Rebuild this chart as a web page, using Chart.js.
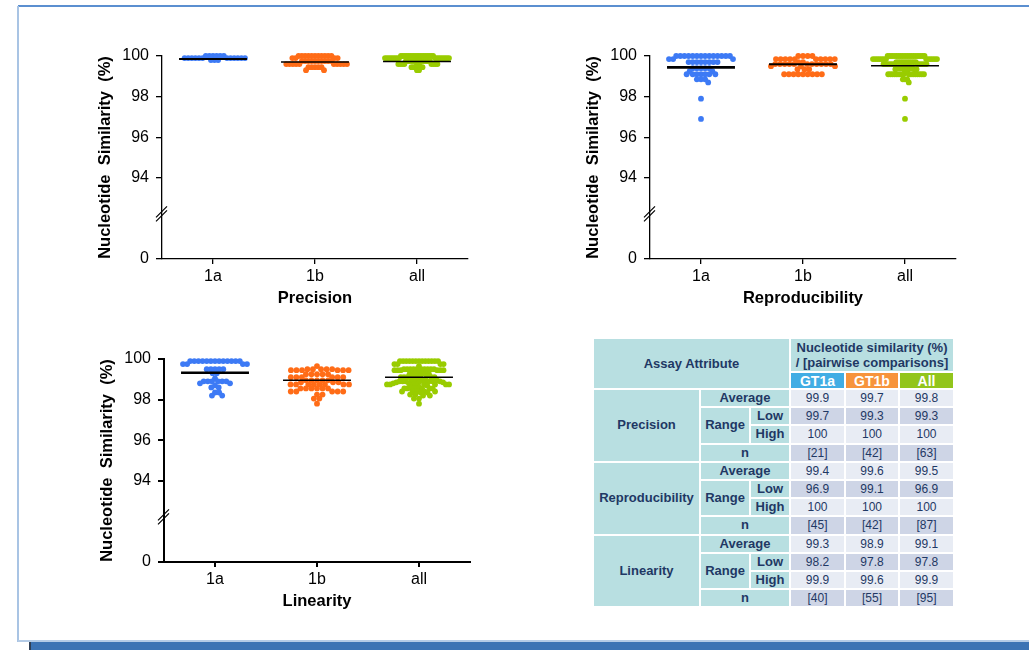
<!DOCTYPE html>
<html>
<head>
<meta charset="utf-8">
<script src="https://cdn.jsdelivr.net/npm/chart.js@4.4.1/dist/chart.umd.min.js"></script>
<style>
  html, body { margin:0; padding:0; background:#fff; }
  body { width:1029px; height:650px; position:relative; overflow:hidden; font-family:"Liberation Sans", Arial, sans-serif; }
  .frameTop { position:absolute; left:18px; top:5px; width:1011px; height:2px; background:#5b8fd0; }
  .frameLeft { position:absolute; left:17px; top:6px; width:2px; height:636px; background:#a9c4e4; }
  .frameBottom { position:absolute; left:18px; top:640px; width:1011px; height:2px; background:#b4cbe6; }
  .bar { position:absolute; left:29px; top:642px; width:1000px; height:8px; background:#3c73b4; }
  .barEdge { position:absolute; left:29px; top:642px; width:2px; height:8px; background:#2f3f55; }
  canvas { position:absolute; }
  #tbl { position:absolute; left:593px; top:338px; border-collapse:separate; border-spacing:0; table-layout:fixed; }
  #tbl td { border:1px solid #fff; padding:0; text-align:center; vertical-align:middle; color:#1f3864; font-size:12px; line-height:14px; overflow:hidden; white-space:nowrap; }
  #tbl td.lab { background:#b8dfe1; font-weight:bold; font-size:13px; }
  #tbl td.lt { background:#e8ecf4; }
  #tbl td.dk { background:#ced5e6; }
  #tbl td.g1 { background:#41ade4; color:#fff; font-weight:bold; font-size:14px; }
  #tbl td.g2 { background:#f7943c; color:#fff; font-weight:bold; font-size:14px; }
  #tbl td.g3 { background:#92c51c; color:#fff; font-weight:bold; font-size:14px; }
</style>
</head>
<body>
<div class="frameTop"></div>
<div class="frameLeft"></div>
<div class="frameBottom"></div>
<div class="bar"></div>
<div class="barEdge"></div>

<canvas id="c1" width="400" height="290" style="left:90px;top:30px;"></canvas>
<canvas id="c2" width="400" height="290" style="left:578px;top:30px;"></canvas>
<canvas id="c3" width="400" height="290" style="left:92px;top:333px;"></canvas>
<table id="tbl"></table>

<script>
// ---------------- DATA ----------------
const categories = ['1a', '1b', 'all'];
// Broken y axis: the value 90 on the scale is shown as "0"
const yTickValues = [90, 94, 96, 98, 100];
const yTickLabels = ['0', '94', '96', '98', '100'];
const axisBreakValue = 92.2;

const precision1a = [100,100,100,100,100,100, 99.9,99.9,99.9,99.9,99.9,99.9,99.9,99.9,99.9,99.9,99.9,99.9, 99.8,99.8,99.8];
const precision1b = [100,100,100,100,100,100,100,100,100,100,100, 99.9,99.9,99.9,99.9,
  99.75,99.75,99.75,99.75,99.75,99.75,99.75,99.75,99.75,99.75,
  99.6,99.6,99.6,99.6,99.6,99.6,99.6,99.6,99.6,99.6, 99.45,99.45,99.45,99.45,99.45, 99.3,99.3];
const precisionAll = precision1a.concat(precision1b);
const precisionMeans = [99.85, 99.71, 99.73];

const repro1a = [100,100,100,100,100,100,100,100,100,100,100,100,100,100, 99.85,99.85,99.85,
  99.7,99.7,99.7,99.7,99.7,99.7,99.7,99.7, 99.4,99.4,99.4,99.4,99.4, 99.25,99.25,
  99.1,99.1,99.1,99.1,99.1,99.1,99.1, 98.85,98.85,98.85, 98.7, 97.9, 96.9];
const repro1b = [100,100,100,100, 99.85,99.85,99.85,99.85,99.85,99.85,99.85,99.85,99.85,99.85, 99.7,99.7,
  99.6,99.6,99.6,99.6,99.6,99.6,99.6,99.6,99.6,99.6,99.6, 99.5,99.5,99.5, 99.35,99.35,99.35,
  99.1,99.1,99.1,99.1,99.1,99.1,99.1,99.1,99.1];
const reproAll = repro1a.concat(repro1b);
const reproMeans = [99.44, 99.59, 99.52];

const lin1a = [99.9,99.9,99.9,99.9,99.9,99.9,99.9,99.9,99.9,99.9,99.9,99.9,99.9, 99.75,99.75,99.75,99.75,
  99.5,99.5,99.5,99.5,99.5, 99.3,99.3, 99.05, 98.9,98.9,98.9,98.9,98.9,98.9, 98.8,98.8, 98.7,
  98.6,98.6, 98.35,98.35, 98.2,98.2];
const lin1b = [99.65, 99.5,99.5,99.5,99.5,99.5, 99.45,99.45,99.45,99.45,99.45,99.45, 99.25,99.25,99.25,99.25,99.25,
  99.1,99.1,99.1,99.1,99.1,99.1, 98.95,98.95,98.95,98.95,98.95, 98.85,98.85,98.85,
  98.75,98.75,98.75,98.75,98.75,98.75,98.75,98.75, 98.55,98.55,98.55,98.55,98.55,98.55,
  98.4,98.4,98.4,98.4,98.4, 98.25,98.25, 98.05,98.05, 97.8];
const linAll = lin1a.concat(lin1b);
const linMeans = [99.32, 98.95, 99.1];

// table
const tableGroups = ['GT1a', 'GT1b', 'All'];
const tableAttributes = ['Precision', 'Reproducibility', 'Linearity'];
const tableAverage = [['99.9','99.7','99.8'], ['99.4','99.6','99.5'], ['99.3','98.9','99.1']];
const tableLow     = [['99.7','99.3','99.3'], ['96.9','99.1','96.9'], ['98.2','97.8','97.8']];
const tableHigh    = [['100','100','100'],    ['100','100','100'],    ['99.9','99.6','99.9']];
const tableN       = [['[21]','[42]','[63]'], ['[45]','[42]','[87]'], ['[40]','[55]','[95]']];

// ---------------- STYLE ----------------
const FONT = '"Liberation Sans", Arial, sans-serif';
const pointColors = ['#3d7af5', '#ff6c17', '#99cc00'];

// beeswarm layout with elliptical collision, then squeezed to a maximum half-width
function swarm(values, center, xs, ys, sx, sy, maxHalf) {
  const pts = values.map(v => ({ v, py: ys.getPixelForValue(v) })).sort((a, b) => a.py - b.py);
  const placed = [];
  const free = (c, p) => placed.every(q => {
    const a = (c - q.dx) / sx, b = (p.py - q.py) / sy;
    return a * a + b * b >= 1 - 1e-9;
  });
  for (const p of pts) {
    const cands = [0];
    for (const q of placed) {
      const dy = p.py - q.py;
      if (Math.abs(dy) < sy) {
        const dx = sx * Math.sqrt(1 - (dy / sy) * (dy / sy));
        cands.push(q.dx + dx, q.dx - dx);
      }
    }
    cands.sort((a, b) => Math.abs(a) - Math.abs(b));
    let best = 0;
    for (const c of cands) { if (free(c, p)) { best = c; break; } }
    p.dx = best;
    placed.push(p);
  }
  const maxAbs = Math.max(...placed.map(p => Math.abs(p.dx)), 0.001);
  const k = maxAbs > maxHalf ? maxHalf / maxAbs : 1;
  const cpx = xs.getPixelForValue(center);
  return placed.map(p => ({ x: xs.getValueForPixel(cpx + p.dx * k), y: p.v }));
}

const breakPlugin = {
  id: 'axisBreak',
  afterDraw(chart) {
    const ctx = chart.ctx, y = chart.scales.y, x0 = chart.chartArea.left;
    const yb = y.getPixelForValue(axisBreakValue);
    ctx.save();
    ctx.strokeStyle = '#000';
    ctx.lineWidth = 1.2;
    ctx.beginPath();
    for (const off of [-2, 2]) {
      ctx.moveTo(x0 - 6, yb + 5 + off);
      ctx.lineTo(x0 + 5, yb - 6 + off);
    }
    ctx.stroke();
    ctx.restore();
  }
};

function makeChart(id, groups, means, title, axisW, lineWidths) {
  const datasets = [];
  groups.forEach((g, i) => {
    datasets.push({
      type: 'scatter', data: g.map(v => ({ x: i + 1, y: v })),
      backgroundColor: pointColors[i], borderWidth: 0, pointRadius: 2.9, pointHoverRadius: 2.9,
      clip: false, order: 2
    });
  });
  means.forEach((m, i) => {
    datasets.push({
      type: 'line', data: [{ x: i + 1 - 0.333, y: m }, { x: i + 1 + 0.333, y: m }],
      borderColor: '#000', borderWidth: lineWidths[i], pointRadius: 0, showLine: true,
      clip: false, order: 1
    });
  });
  const chart = new Chart(document.getElementById(id), {
    type: 'scatter',
    data: { datasets },
    plugins: [breakPlugin],
    options: {
      responsive: false, animation: false, events: [],
      layout: { padding: { top: 26, right: 22, left: 0, bottom: 0 } },
      plugins: { legend: { display: false }, tooltip: { enabled: false } },
      scales: {
        x: {
          type: 'linear', min: 0.5, max: 3.5,
          afterBuildTicks: s => { s.ticks = categories.map((c, i) => ({ value: i + 1 })); },
          ticks: { callback: (v, i) => categories[i], font: { family: FONT, size: 16 }, color: '#000', padding: 3, maxRotation: 0, autoSkip: false },
          grid: { display: true, drawOnChartArea: false, drawTicks: true, tickLength: 5, color: '#000', lineWidth: axisW },
          border: { display: true, color: '#000', width: axisW },
          title: { display: true, text: title, color: '#000', font: { family: FONT, size: 16.5, weight: 'bold' }, padding: { top: 0, bottom: 12 } },
          afterFit: s => { s.height = 61; }
        },
        y: {
          type: 'linear', min: 90, max: 100,
          afterBuildTicks: s => { s.ticks = yTickValues.map(v => ({ value: v })); },
          ticks: { callback: (v, i) => yTickLabels[i], font: { family: FONT, size: 16 }, color: '#000', padding: 7, autoSkip: false },
          grid: { display: true, drawOnChartArea: false, drawTicks: true, tickLength: 6, color: '#000', lineWidth: axisW },
          border: { display: true, color: '#000', width: axisW },
          title: { display: true, text: 'Nucleotide  Similarity  (%)', color: '#000', font: { family: FONT, size: 16.5, weight: 'bold' }, padding: { top: 6, bottom: 0 } },
          afterFit: s => { s.width = 72; }
        }
      }
    }
  });
  groups.forEach((g, i) => {
    chart.data.datasets[i].data = swarm(g, i + 1, chart.scales.x, chart.scales.y, 6, 4.5, 32);
  });
  chart.update('none');
  return chart;
}

makeChart('c1', [precision1a, precision1b, precisionAll], precisionMeans, 'Precision', 1.3, [2, 1.5, 1.5]);
makeChart('c2', [repro1a, repro1b, reproAll], reproMeans, 'Reproducibility', 1.3, [2.6, 2, 1.5]);
makeChart('c3', [lin1a, lin1b, linAll], linMeans, 'Linearity', 2, [2.6, 1.5, 1.5]);

// ---------------- TABLE ----------------
(function buildTable() {
  const t = document.getElementById('tbl');
  const colW = [107, 50, 40, 55, 54, 55];
  let html = '<colgroup>' + colW.map(w => `<col style="width:${w}px">`).join('') + '</colgroup>';
  html += `<tr style="height:34px"><td class="lab" colspan="3" rowspan="2">Assay Attribute</td>` +
          `<td class="lab" colspan="3" style="line-height:15px">Nucleotide similarity (%)<br>/ [pairwise comparisons]</td></tr>`;
  html += `<tr style="height:17px">` + tableGroups.map((g, i) => `<td class="g${i + 1}">${g}</td>`).join('') + `</tr>`;
  const rowH = 'height:18.2px';
  tableAttributes.forEach((a, k) => {
    html += `<tr style="${rowH}"><td class="lab" rowspan="4">${a}</td><td class="lab" colspan="2">Average</td>` +
            tableAverage[k].map(v => `<td class="lt">${v}</td>`).join('') + `</tr>`;
    html += `<tr style="${rowH}"><td class="lab" rowspan="2">Range</td><td class="lab">Low</td>` +
            tableLow[k].map(v => `<td class="dk">${v}</td>`).join('') + `</tr>`;
    html += `<tr style="${rowH}"><td class="lab">High</td>` +
            tableHigh[k].map(v => `<td class="lt">${v}</td>`).join('') + `</tr>`;
    html += `<tr style="${rowH}"><td class="lab" colspan="2">n</td>` +
            tableN[k].map(v => `<td class="dk">${v}</td>`).join('') + `</tr>`;
  });
  t.innerHTML = html;
})();
</script>
</body>
</html>
